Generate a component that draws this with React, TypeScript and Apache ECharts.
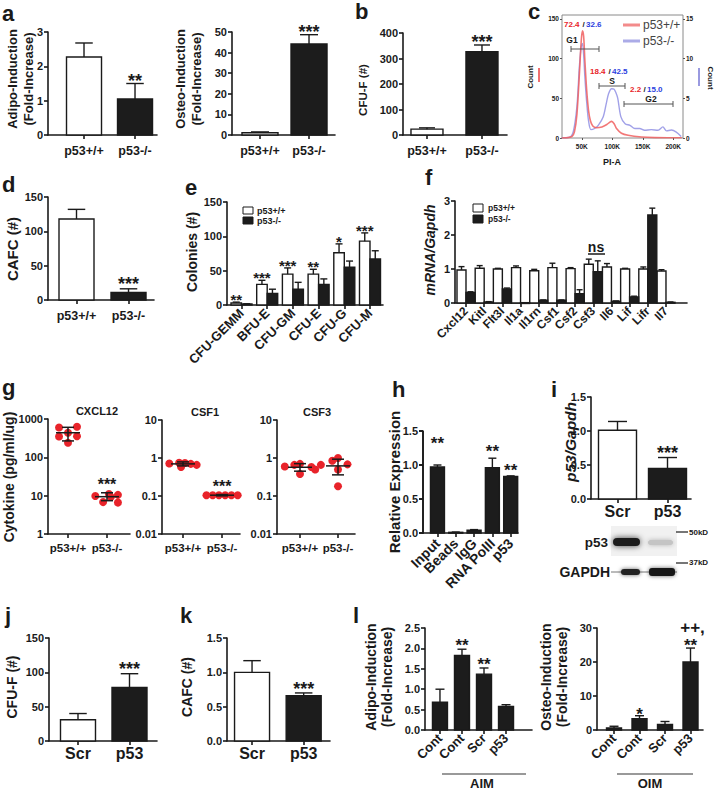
import React, { useEffect, useRef } from "react";
import * as echarts from "echarts";

const FONT = '"Liberation Sans", Arial, Helvetica, sans-serif';
const INK = "#1a1a1a";
const DARK = "#1c1c1c";
const RED = "#e8232a";
const BLUE = "#2b3ee0";

// ---------- data ----------
const genotypes = ["p53+/+", "p53-/-"];
const adipoMean = [2.27, 1.05];
const adipoSd = [0.41, 0.45];
const adipoSig = ["", "**"];
const osteoMean = [1.1, 44.2];
const osteoSd = [0.4, 4.5];
const osteoSig = ["", "***"];
const cfufMean = [23, 327];
const cfufSd = [5, 26];
const cfufSig = ["", "***"];

const cyclePhases = ["G1", "S", "G2"];
const cycleWt = [72.4, 18.4, 2.2];
const cycleKo = [32.6, 42.5, 15.0];
const cycleTicks = [50, 100, 150, 200];
const countTicksLeft = [0, 50, 100, 150];
const countTicksRight = [0, 5, 10, 15];
const redCurve = [
  [17, 0], [28, 0.5], [34, 2], [38, 8], [42, 30], [46, 80], [49, 122], [51, 135], [53, 128], [55, 98],
  [58, 60], [61, 35], [64, 22], [68, 15], [74, 13], [83, 14], [91, 17], [96, 20], [99, 21], [103, 18],
  [107, 12], [115, 6], [126, 3.4], [148, 1.3], [170, 0.5], [200, 0.3], [214, 0.3],
];
const blueCurve = [
  [17, 0], [30, 0.1], [36, 0.8], [42, 4], [46, 9], [49, 11.5], [51, 11.9], [53, 10.5], [55, 7.7], [58, 4.5],
  [61, 2.2], [65, 1.05], [71, 1.2], [77, 1.6], [85, 2.65], [90, 4.3], [94, 5.6], [99, 6.2], [103, 6.15],
  [106, 5.7], [109, 5.0], [114, 2.7], [121, 1.8], [129, 1.6], [137, 1.2], [145, 1.2], [153, 0.97],
  [164, 1.05], [175, 0.97], [183, 1.4], [189, 0.9], [197, 1.0], [205, 0.75], [213, 0.2],
];

const cafcMean = [118, 11];
const cafcSd = [14, 5.3];
const cafcSig = ["", "***"];

const colonyTypes = ["CFU-GEMM", "BFU-E", "CFU-GM", "CFU-E", "CFU-G", "CFU-M"];
const colWtMean = [3, 30, 45, 45, 76, 93];
const colWtSd = [1.2, 6, 9, 7, 13, 12];
const colKoMean = [1.5, 17, 23, 30, 55, 67];
const colKoSd = [0.3, 6, 10, 8, 9, 12];
const colSig = ["**", "***", "***", "**", "*", "***"];

const genes = ["Cxcl12", "Kitl", "Flt3l", "Il1a", "Il1rn", "Csf1", "Csf2", "Csf3", "Il6", "Lif", "Lifr", "Il7"];
const mrnaWtMean = [0.97, 1.02, 1.0, 1.04, 0.95, 1.04, 1.01, 1.14, 1.06, 1.0, 1.0, 0.94];
const mrnaWtSd = [0.1, 0.08, 0.02, 0.05, 0.04, 0.13, 0.03, 0.15, 0.1, 0.02, 0.06, 0.04];
const mrnaKoMean = [0.31, 0.03, 0.41, 0.01, 0.08, 0.08, 0.27, 0.92, 0.05, 0.18, 2.59, 0.02];
const mrnaKoSd = [0.02, 0.01, 0.03, 0, 0.01, 0.01, 0.12, 0.32, 0.01, 0.02, 0.2, 0.01];

const cytoGroups = ["p53+/+", "p53-/-"];
const cxcl12Wt = [600, 630, 440, 350, 355, 240];
const cxcl12Ko = [9.8, 11, 10.5, 6.8, 6.6, 9.2];
const csf1Wt = [0.72, 0.75, 0.7, 0.58, 0.66, 0.74];
const csf1Ko = [0.105, 0.105, 0.105, 0.105, 0.105, 0.105];
const csf3Wt = [0.6, 0.7, 0.58, 0.5, 0.38, 0.66];
const csf3Ko = [1.0, 0.85, 0.66, 0.68, 0.5, 0.18];
const jitterA = [-0.23, 0.23, 0, -0.23, 0.23, 0];
const jitterB = [-0.3, 0.05, 0.28, -0.1, 0.28, 0.1];
const jitterC = [-0.35, -0.1, 0.2, -0.05, 0.35, 0.05];
const jitterLine = [-0.4, -0.24, -0.08, 0.08, 0.24, 0.4];
const jitterD = [-0.4, 0, 0.3, 0.4, 0, -0.15];
const jitterE = [0, -0.15, -0.45, 0.25, 0, 0];
// [mean, low, high] per group
const cxcl12Stats = [[438, 268, 607], [9.4, 7.4, 11.9]];
const csf1Stats = [[0.7, 0.62, 0.79], [0.105, 0.101, 0.109]];
const csf3Stats = [[0.57, 0.45, 0.71], [0.62, 0.36, 0.93]];
const cxcl12Sig = ["", "***"];
const csf1Sig = ["", "***"];
const csf3Sig = ["", ""];

const chipTargets = ["Input", "Beads", "IgG", "RNA PolII", "p53"];
const chipMean = [0.97, 0.01, 0.04, 0.96, 0.83];
const chipSd = [0.03, 0.004, 0.01, 0.14, 0.01];
const chipSig = ["**", "", "", "**", "**"];
const chipTicks = [0, 0.5, 1, 1.5];

const knockdown = ["Scr", "p53"];
const p53Mean = [1.01, 0.45];
const p53Sd = [0.13, 0.16];
const p53Sig = ["", "***"];
const kdCfufMean = [31, 78];
const kdCfufSd = [9, 20];
const kdCfufSig = ["", "***"];
const kdCafcMean = [1.0, 0.66];
const kdCafcSd = [0.17, 0.04];
const kdCafcSig = ["", "***"];

const inductionGroups = ["Cont", "Cont", "Scr", "p53"];
const aimMean = [0.68, 1.83, 1.37, 0.58];
const aimSd = [0.32, 0.15, 0.15, 0.04];
const aimSig = ["", "**", "**", ""];
const oimMean = [0.6, 3.3, 1.6, 20];
const oimSd = [0.5, 0.9, 0.9, 4.1];
const oimSig = ["", "*", "", "**"];
const oimSig2 = ["", "", "", "++,"];

// ---------- helpers ----------
const axLine = { show: true, onZero: false, lineStyle: { color: INK, width: 1.6 } };
const axTick = { show: true, length: 4, lineStyle: { color: INK, width: 1.6 } };
const lblBase = { color: INK, fontFamily: FONT, fontWeight: "bold", showMinLabel: true, showMaxLabel: true, hideOverlap: false };

function xCat(grid: number, min: number, max: number, names: string[], fs: number, margin: number, rotate = 0, showLabel = true) {
  const vals = names.map((_, i) => i);
  return {
    type: "value", gridIndex: grid, min, max,
    axisLine: axLine,
    axisTick: { ...axTick, customValues: vals },
    axisLabel: {
      ...lblBase, show: showLabel, customValues: vals, formatter: (v: number) => names[Math.round(v)] ?? "",
      fontSize: fs, margin, rotate,
    },
    splitLine: { show: false },
  };
}

function yLin(grid: number, max: number, interval: number, dec: number, fs = 11, showLabel = true) {
  return {
    type: "value", gridIndex: grid, min: 0, max, interval,
    axisLine: axLine, axisTick: axTick,
    axisLabel: { ...lblBase, show: showLabel, fontSize: fs, margin: 5, formatter: (v: number) => v.toFixed(dec) },
    splitLine: { show: false },
  };
}

function yLog(grid: number, min: number, max: number) {
  return {
    type: "log", logBase: 10, gridIndex: grid, min, max,
    axisLine: axLine, axisTick: axTick, minorTick: { show: false },
    axisLabel: { ...lblBase, fontSize: 11, margin: 5, formatter: (v: number) => String(+Number(v).toPrecision(2)) },
    splitLine: { show: false },
  };
}

const sigText = (x: number, y: number, text: string, fs: number) => ({
  type: "text", x, y, z2: 20,
  style: { text, fill: INK, font: `bold ${fs}px ${FONT}`, align: "center", verticalAlign: "middle", textAlign: "center", textVerticalAlign: "middle" },
});

function bars(grid: number, means: number[], sds: number[], o: any) {
  return {
    type: "custom", xAxisIndex: grid, yAxisIndex: grid, clip: false, z: 3,
    data: means.map((m, i) => [i, m, sds[i]]),
    encode: { x: 0, y: 1 },
    renderItem: (params: any, api: any) => {
      const i = params.dataIndex;
      const x = api.value(0), m = api.value(1), sd = api.value(2);
      const base = api.coord([x, 0]);
      const top = api.coord([x, m]);
      const err = api.coord([x, m + sd]);
      const cx = base[0] + (o.off || 0);
      const w = o.w;
      const cw = o.cap ?? w * 0.5;
      const fill = o.fills ? o.fills[i] : o.fill;
      const ch: any[] = [];
      ch.push({ type: "rect", shape: { x: cx - w / 2, y: top[1], width: w, height: Math.max(base[1] - top[1], 0.8) }, style: { fill, stroke: INK, lineWidth: 1.4 } });
      if (sd > 0) {
        ch.push({ type: "line", shape: { x1: cx, y1: top[1], x2: cx, y2: err[1] }, style: { stroke: INK, lineWidth: 1.4 } });
        ch.push({ type: "line", shape: { x1: cx - cw / 2, y1: err[1], x2: cx + cw / 2, y2: err[1] }, style: { stroke: INK, lineWidth: 1.4 } });
      }
      const s = o.sig ? o.sig[i] : "";
      const lift = o.liftArr ? o.liftArr[i] : (o.lift ?? 3);
      if (s) ch.push(sigText(cx, err[1] - lift, s, o.fs ?? 18));
      const s2 = o.sig2 ? o.sig2[i] : "";
      if (s2) ch.push(sigText(cx + 2, err[1] - (o.lift2 ?? 20), s2, o.fs ?? 18));
      if (o.xl) {
        ch.push({
          type: "text", x: base[0], y: base[1] + o.xl.margin, rotation: Math.PI / 4,
          style: { text: o.xl.names[i], fill: INK, font: `bold ${o.xl.fs}px ${FONT}`, align: "right", verticalAlign: "middle", textAlign: "right", textVerticalAlign: "middle" },
        });
      }
      return { type: "group", children: ch };
    },
  };
}

const twoBars = (grid: number, means: number[], sds: number[], sig: string[], w: number, lift: number, fs = 18) =>
  bars(grid, means, sds, { fills: ["#fff", DARK], w, sig, lift, fs });

function dots(grid: number, gi: number, vals: number[], jit: number[]) {
  return {
    type: "scatter", xAxisIndex: grid, yAxisIndex: grid, z: 2,
    data: vals.map((v, k) => [gi + jit[k], v]),
    symbolSize: 8, itemStyle: { color: RED, opacity: 1 },
  };
}

function stats(grid: number, st: number[][], sig: string[]) {
  return {
    type: "custom", xAxisIndex: grid, yAxisIndex: grid, clip: false, z: 5,
    data: st.map((s, i) => [i, s[0], s[1], s[2]]),
    encode: { x: 0, y: 1 },
    renderItem: (params: any, api: any) => {
      const i = params.dataIndex;
      const x = api.value(0);
      const pm = api.coord([x, api.value(1)]);
      const pl = api.coord([x, api.value(2)]);
      const ph = api.coord([x, api.value(3)]);
      const cx = pm[0];
      const ls = { stroke: INK, lineWidth: 1.5 };
      const ch: any[] = [
        { type: "line", shape: { x1: cx - 12, y1: pm[1], x2: cx + 12, y2: pm[1] }, style: ls },
        { type: "line", shape: { x1: cx, y1: pl[1], x2: cx, y2: ph[1] }, style: ls },
        { type: "line", shape: { x1: cx - 6, y1: pl[1], x2: cx + 6, y2: pl[1] }, style: ls },
        { type: "line", shape: { x1: cx - 6, y1: ph[1], x2: cx + 6, y2: ph[1] }, style: ls },
      ];
      if (sig[i]) ch.push(sigText(cx, ph[1] - 8, sig[i], 16));
      return { type: "group", children: ch };
    },
  };
}

const T = (text: string, x: number, y: number, fs: number, o: any = {}) => ({
  type: "text", x, y, rotation: o.rot ?? 0, silent: true, z: o.z ?? 50,
  style: {
    text, fill: o.color ?? INK,
    font: `${o.italic ? "italic " : ""}${o.weight ?? "bold"} ${fs}px ${FONT}`,
    align: o.align ?? "center", verticalAlign: "middle", textAlign: o.align ?? "center", textVerticalAlign: "middle",
    lineHeight: o.lh,
  },
});
const L = (x1: number, y1: number, x2: number, y2: number, color = INK, w = 1.2, z = 50) => ({
  type: "line", silent: true, z, shape: { x1, y1, x2, y2 }, style: { stroke: color, lineWidth: w },
});
const R = (x: number, y: number, w: number, h: number, fill: string, o: any = {}) => ({
  type: "rect", silent: true, z: 50, shape: { x, y, width: w, height: h, r: o.r ?? 0 },
  style: { fill, stroke: o.stroke ?? null, lineWidth: o.lw ?? 0, shadowBlur: o.blur ?? 0, shadowColor: o.sc ?? "rgba(0,0,0,0)" },
});
const PI = Math.PI;

function buildOption() {
  const grids = [
    { left: 48, top: 32, width: 109, height: 103 }, // 0 a1
    { left: 232, top: 32, width: 103, height: 103 }, // 1 a2
    { left: 403, top: 33, width: 104, height: 102 }, // 2 b
    { left: 562, top: 15, width: 121, height: 123, show: true, borderColor: "#8a8a8a", borderWidth: 1 }, // 3 c
    { left: 48, top: 197, width: 106, height: 103 }, // 4 d
    { left: 227, top: 202, width: 156, height: 103 }, // 5 e
    { left: 455, top: 201, width: 232, height: 102 }, // 6 f
    { left: 48, top: 419, width: 82, height: 115 }, // 7 g1
    { left: 162, top: 420, width: 78, height: 114 }, // 8 g2
    { left: 277, top: 420, width: 78, height: 114 }, // 9 g3
    { left: 423, top: 431, width: 95, height: 102 }, // 10 h
    { left: 591, top: 397, width: 100, height: 102 }, // 11 i
    { left: 49, top: 638, width: 108, height: 103 }, // 12 j
    { left: 227, top: 638, width: 103, height: 103 }, // 13 k
    { left: 425, top: 628, width: 107, height: 102 }, // 14 l1
    { left: 597, top: 628, width: 106, height: 102 }, // 15 l2
  ].map((g) => ({ ...g, containLabel: false, outerBoundsMode: "none" }));

  const smallLbl = { ...lblBase, fontSize: 6.5 };
  const xAxis = [
    xCat(0, -0.706, 1.431, genotypes, 12.5, 9),
    xCat(1, -0.571, 1.53, genotypes, 12.5, 9),
    xCat(2, -0.436, 1.455, genotypes, 12.5, 9),
    {
      type: "value", gridIndex: 3, min: 17.5, max: 216,
      axisLine: { show: false, onZero: false },
      axisTick: { show: true, length: 2, customValues: cycleTicks, lineStyle: { color: "#555" } },
      axisLabel: { ...smallLbl, customValues: cycleTicks, margin: 5, formatter: (v: number) => v + "K" },
      splitLine: { show: false },
    },
    xCat(4, -0.548, 1.49, genotypes, 12.5, 9),
    xCat(5, -0.564, 5.506, colonyTypes, 13, 6, 45),
    xCat(6, -0.605, 12.156, genes, 12, 6, 45),
    xCat(7, -0.513, 1.59, cytoGroups, 11.5, 8),
    xCat(8, -0.538, 1.46, cytoGroups, 11.5, 8),
    xCat(9, -0.605, 1.447, cytoGroups, 11.5, 8),
    xCat(10, -0.79, 4.4, chipTargets, 14, 6, 45, false),
    xCat(11, -0.53, 1.47, knockdown, 16, 4),
    xCat(12, -0.563, 1.534, knockdown, 16, 4),
    xCat(13, -0.485, 1.51, knockdown, 16, 4),
    xCat(14, -0.68, 4.18, inductionGroups, 13, 6, 45),
    xCat(15, -0.667, 3.49, inductionGroups, 13, 6, 45),
  ];
  const hY: any = {
    ...yLin(10, 1.5, 0.5, 1, 11, false),
    name: "Relative Expression", nameLocation: "middle", nameRotate: 90, nameGap: 21, nameMoveOverlap: false,
    nameTextStyle: { color: INK, fontFamily: FONT, fontWeight: "bold", fontSize: 15 },
  };
  const yAxis: any[] = [
    yLin(0, 3, 1, 0),
    yLin(1, 50, 10, 0),
    yLin(2, 400, 100, 0),
    {
      type: "value", gridIndex: 3, min: 0, max: 155,
      axisLine: { show: false, onZero: false },
      axisTick: { show: true, length: 2, customValues: countTicksLeft, lineStyle: { color: "#555" } },
      axisLabel: { ...smallLbl, customValues: countTicksLeft, margin: 3 },
      splitLine: { show: false },
    },
    yLin(4, 150, 50, 0),
    yLin(5, 150, 50, 0),
    yLin(6, 3, 1, 0),
    yLog(7, 1, 1000),
    yLog(8, 0.01, 10),
    yLog(9, 0.01, 10),
    hY,
    yLin(11, 1.5, 0.5, 1),
    yLin(12, 150, 50, 0),
    yLin(13, 1.5, 0.5, 1),
    yLin(14, 2.5, 0.5, 1),
    yLin(15, 30, 10, 0),
    {
      type: "value", gridIndex: 3, position: "right", min: 0, max: 15.5,
      axisLine: { show: false, onZero: false },
      axisTick: { show: true, length: 2, customValues: countTicksRight, lineStyle: { color: "#555" } },
      axisLabel: { ...smallLbl, customValues: countTicksRight, margin: 3 },
      splitLine: { show: false },
    },
  ];

  const series: any[] = [];
  series.push(twoBars(0, adipoMean, adipoSd, adipoSig, 35, 2.2));
  series.push(twoBars(1, osteoMean, osteoSd, osteoSig, 36, 2.7));
  series.push(twoBars(2, cfufMean, cfufSd, cfufSig, 32, 3.2));
  series.push({
    type: "line", xAxisIndex: 3, yAxisIndex: 3, data: redCurve, smooth: 0.3, symbol: "none", showSymbol: false, z: 4,
    lineStyle: { color: "rgba(240,95,95,0.85)", width: 1.6 },
  });
  series.push({
    type: "line", xAxisIndex: 3, yAxisIndex: 16, data: blueCurve, smooth: 0.3, symbol: "none", showSymbol: false, z: 3,
    lineStyle: { color: "rgba(145,145,228,0.85)", width: 1.4 },
  });
  series.push(twoBars(4, cafcMean, cafcSd, cafcSig, 35, 4.7));
  series.push(bars(5, colWtMean, colWtSd, { fill: "#fff", w: 10.5, off: -5.25, cap: 7, sig: colSig, lift: 2.4, fs: 15 }));
  series.push(bars(5, colKoMean, colKoSd, { fill: DARK, w: 10.5, off: 5.25, cap: 7 }));
  series.push(bars(6, mrnaWtMean, mrnaWtSd, { fill: "#fff", w: 9, off: -4.5, cap: 6 }));
  series.push(bars(6, mrnaKoMean, mrnaKoSd, { fill: DARK, w: 9, off: 4.5, cap: 6 }));
  series.push(dots(7, 0, cxcl12Wt, jitterA), dots(7, 1, cxcl12Ko, jitterB), stats(7, cxcl12Stats, cxcl12Sig));
  series.push(dots(8, 0, csf1Wt, jitterC), dots(8, 1, csf1Ko, jitterLine), stats(8, csf1Stats, csf1Sig));
  series.push(dots(9, 0, csf3Wt, jitterD), dots(9, 1, csf3Ko, jitterE), stats(9, csf3Stats, csf3Sig));
  series.push(bars(10, chipMean, chipSd, {
    fill: DARK, w: 14, cap: 8, sig: chipSig, liftArr: [22, 0, 0, 7, 5], fs: 17,
    xl: { names: chipTargets, fs: 14, margin: 8 },
  }));
  series.push(twoBars(11, p53Mean, p53Sd, p53Sig, 38, 4.2));
  series.push(twoBars(12, kdCfufMean, kdCfufSd, kdCfufSig, 35, 4.7));
  series.push(twoBars(13, kdCafcMean, kdCafcSd, kdCafcSig, 35, 3.7));
  series.push(bars(14, aimMean, aimSd, { fill: DARK, w: 15, cap: 9, sig: aimSig, lift: 3.8, fs: 17 }));
  series.push(bars(15, oimMean, oimSd, { fill: DARK, w: 15, cap: 9, sig: oimSig, liftArr: [3, 1.6, 3, 3], sig2: oimSig2, lift2: 21, fs: 17 }));

  // panel h value axis labels (drawn on top): x = grid left, 0 -> 533, 1.5 -> 431
  const hAxisX = 423, hBottom = 533, hPerUnit = 68;
  const hAxis: any[] = [
    L(hAxisX, hBottom + 0.8, hAxisX, hBottom - 1.5 * hPerUnit, INK, 1.6, 60),
    ...chipTicks.flatMap((t) => {
      const y = hBottom - t * hPerUnit;
      return [L(hAxisX - 4, y, hAxisX, y, INK, 1.6, 60), T(t.toFixed(1), hAxisX - 5, y, 11, { align: "right", z: 60 })];
    }),
  ];

  const rot = PI / 2;
  const elements: any[] = [
    // panel letters
    ...([["a", 2, 13], ["b", 355, 11], ["c", 528, 11], ["d", 2, 184], ["e", 185, 187], ["f", 425, 177],
      ["g", 2, 387], ["h", 392, 389], ["i", 551, 389], ["j", 5, 615], ["k", 180, 615], ["l", 353, 615]] as any[])
      .map(([t, x, y]) => T(t, x, y, 22, { align: "left" })),
    // y titles
    T("Adipo-Induction\n(Fold-Increase)", 20, 79, 13, { rot, lh: 16 }),
    T("Osteo-Induction\n(Fold-Increase)", 188, 79, 13, { rot, lh: 16 }),
    T("CFU-F (#)", 363, 90, 11.5, { rot }),
    T("CAFC (#)", 12, 249, 15, { rot }),
    T("Colonies (#)", 192, 252, 14, { rot }),
    T("mRNA/Gapdh", 430, 250, 14, { rot, italic: true }),
    T("Cytokine (pg/ml/ug)", 9, 477, 14, { rot }),
    T("p53/Gapdh", 570, 442, 15.5, { rot, italic: true }),
    T("CFU-F (#)", 12, 687, 14, { rot }),
    T("CAFC (#)", 187, 687, 14, { rot }),
    T("Adipo-Induction\n(Fold-Increase)", 379, 677, 14, { rot, lh: 16 }),
    T("Osteo-Induction\n(Fold-Increase)", 554, 677, 14, { rot, lh: 16 }),
    // panel c
    T("Count", 530, 77, 8, { rot }),
    L(539, 68, 539, 82, "#f07070", 2),
    L(699, 68, 699, 86, "#9a9ae0", 2),
    T("Count", 710, 78, 8, { rot: -PI / 2 }),
    T("PI-A", 612, 162, 9),
    L(623, 25, 640, 25, "rgba(240,110,110,0.8)", 3),
    T("p53+/+", 643, 25, 12, { align: "left", weight: "normal", color: "#444" }),
    L(623, 41, 640, 41, "rgba(150,150,225,0.8)", 3),
    T("p53-/-", 643, 41, 12, { align: "left", weight: "normal", color: "#444" }),
    T(cycleWt[0].toFixed(1), 564, 24, 8, { align: "left", color: RED }),
    T("/", 582.5, 24, 8, { align: "left" }),
    T(cycleKo[0].toFixed(1), 586, 24, 8, { align: "left", color: BLUE }),
    T(cycleWt[1].toFixed(1), 590, 71, 8, { align: "left", color: RED }),
    T("/", 608.5, 71, 8, { align: "left" }),
    T(cycleKo[1].toFixed(1), 612, 71, 8, { align: "left", color: BLUE }),
    T(cycleWt[2].toFixed(1), 630, 89, 8, { align: "left", color: RED }),
    T("/", 643.5, 89, 8, { align: "left" }),
    T(cycleKo[2].toFixed(1), 647, 89, 8, { align: "left", color: BLUE }),
    T(cyclePhases[0], 572, 40, 8.5),
    L(571, 49, 599, 49, "#555", 1), L(571, 46, 571, 52, "#555", 1), L(599, 46, 599, 52, "#555", 1),
    T(cyclePhases[1], 612, 80.5, 8.5),
    L(599, 86, 625, 86, "#555", 1), L(599, 83, 599, 89, "#555", 1), L(625, 83, 625, 89, "#555", 1),
    T(cyclePhases[2], 651, 98.5, 8.5),
    L(624, 104, 673, 104, "#555", 1), L(624, 101, 624, 107, "#555", 1), L(673, 101, 673, 107, "#555", 1),
    // legends e, f
    R(243, 207, 10, 7, "#fff", { stroke: INK, lw: 1 }), T("p53+/+", 257, 210.5, 9, { align: "left" }),
    R(243, 217, 10, 7, DARK, { stroke: INK, lw: 1 }), T("p53-/-", 257, 220.5, 9, { align: "left" }),
    R(473, 204, 10, 8, "#fff", { stroke: INK, lw: 1 }), T("p53+/+", 488, 208, 8.5, { align: "left" }),
    R(473, 215, 10, 8, DARK, { stroke: INK, lw: 1 }), T("p53-/-", 488, 219, 8.5, { align: "left" }),
    T("ns", 596, 247, 14), L(588, 254, 605, 254, INK, 1.5),
    // g titles
    T("CXCL12", 97, 411, 11), T("CSF1", 205, 412, 11), T("CSF3", 317, 412, 11),
    // blot
    R(611, 526, 66, 30, "#f1f1f1"),
    R(613, 538, 27, 8, "#1d1d1d", { r: 4, blur: 6, sc: "rgba(0,0,0,0.75)" }),
    R(648, 540, 25, 5, "#c4c4c4", { r: 3, blur: 5, sc: "rgba(0,0,0,0.25)" }),
    T("p53", 608, 542, 13.5, { align: "right" }),
    L(676, 532, 688, 532, INK, 1.2), T("50kD", 689, 532, 8, { align: "left" }),
    L(676, 563, 688, 563, INK, 1.2), T("37kD", 689, 562, 8, { align: "left" }),
    T("GAPDH", 610, 572, 14, { align: "right" }),
    L(611, 572, 677, 572, "#777", 1),
    R(621, 569, 19, 6, "#222", { r: 3, blur: 4, sc: "rgba(0,0,0,0.6)" }),
    R(649, 568, 26, 8, "#151515", { r: 3, blur: 4, sc: "rgba(0,0,0,0.6)" }),
    // AIM / OIM
    L(442, 774, 526, 774, "#999", 2), T("AIM", 482, 783, 13),
    L(617, 774, 693, 774, "#999", 2), T("OIM", 650, 783, 13),
    ...hAxis,
  ];

  return {
    animation: false,
    backgroundColor: "#fff",
    textStyle: { fontFamily: FONT },
    grid: grids,
    xAxis,
    yAxis,
    series,
    graphic: { elements },
  };
}

export default function App() {
  const ref = useRef<HTMLDivElement>(null);
  useEffect(() => {
    document.body.style.margin = "0";
    const chart = echarts.init(ref.current as HTMLDivElement, null, { renderer: "svg" });
    chart.setOption(buildOption() as any);
    return () => chart.dispose();
  }, []);
  return <div ref={ref} style={{ width: 715, height: 789, background: "#fff" }} />;
}
